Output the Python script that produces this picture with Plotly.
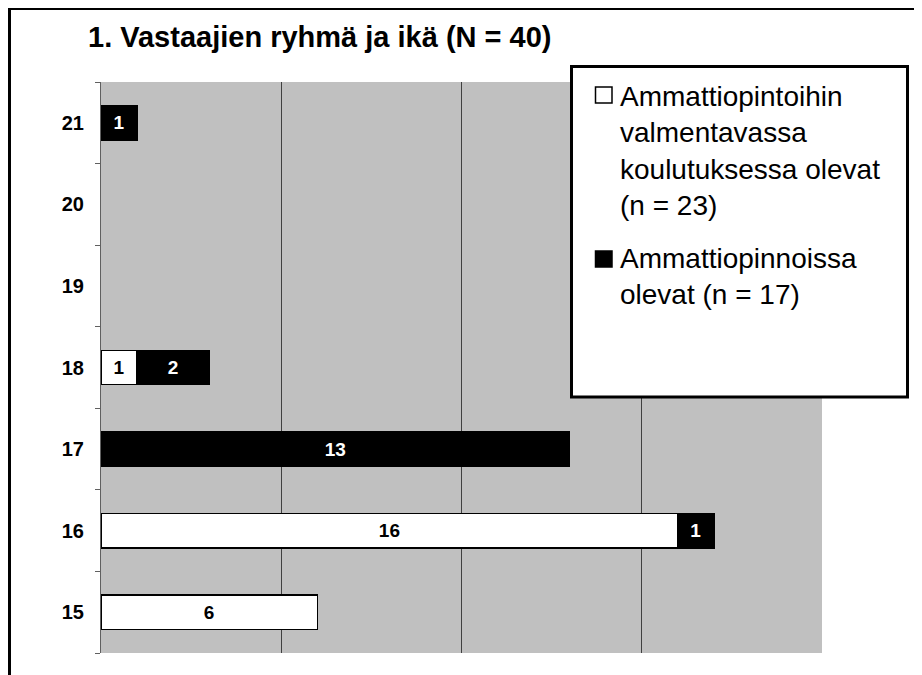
import plotly.graph_objects as go

ages = ["15", "16", "17", "18", "19", "20", "21"]
valmentava = [6, 16, None, 1, None, None, None]
ammatti = [None, 1, 13, 2, None, None, 1]
series_names = [
    "Ammattiopintoihin<br>valmentavassa<br>koulutuksessa olevat<br>(n = 23)",
    "Ammattiopinnoissa<br>olevat (n = 17)",
]
title_text = "1. Vastaajien ryhmä ja ikä (N = 40)"

OFF = 8  # page body margin
W, H = 922 - OFF, 675 - OFF
ML, MR, MT, MB = 101 - OFF, 100, 82 - OFF, 22
PW, PH = W - ML - MR, H - MT - MB
FONT = "Arial, Liberation Sans, sans-serif"


def px(x):
    return (x - OFF - ML) / PW


def py(y):
    return (H - MB - (y - OFF)) / PH


fig = go.Figure()
fig.add_trace(go.Bar(
    y=ages, x=valmentava, orientation="h", name="valmentava",
    marker=dict(color="white", line=dict(color="black", width=1.5)),
    width=0.42, text=valmentava, textposition="inside",
    insidetextanchor="middle", textangle=0,
    textfont=dict(family=FONT, size=19, color="black", weight="bold"),
    showlegend=False, constraintext="none",
))
fig.add_trace(go.Bar(
    y=ages, x=ammatti, orientation="h", name="ammatti",
    marker=dict(color="black", line=dict(color="black", width=1.5)),
    width=0.42, text=ammatti, textposition="inside",
    insidetextanchor="middle", textangle=0,
    textfont=dict(family=FONT, size=19, color="white", weight="bold"),
    showlegend=False, constraintext="none",
))

shapes = [
    # outer frame
    dict(type="rect", xref="paper", yref="paper",
         x0=px(9.5), x1=px(960), y0=py(8.5), y1=py(720),
         line=dict(color="black", width=3), fillcolor="rgba(0,0,0,0)"),
    # legend box
    dict(type="rect", xref="paper", yref="paper",
         x0=px(571.5), x1=px(907.5), y0=py(66.5), y1=py(397),
         line=dict(color="black", width=3), fillcolor="white"),
    dict(type="rect", xref="paper", yref="paper",
         x0=px(595.5), x1=px(612), y0=py(87), y1=py(103),
         line=dict(color="black", width=1.5), fillcolor="white"),
    dict(type="rect", xref="paper", yref="paper",
         x0=px(595.5), x1=px(612), y0=py(251), y1=py(267),
         line=dict(color="black", width=1.5), fillcolor="black"),
]

annotations = [
    dict(text="<b>" + title_text + "</b>", xref="paper", yref="paper",
         x=px(86), y=py(37), xanchor="left", yanchor="middle", showarrow=False,
         font=dict(family=FONT, size=29, color="black")),
    dict(text=series_names[0], xref="paper", yref="paper", align="left",
         x=px(618), y=py(151), xanchor="left", yanchor="middle", showarrow=False,
         font=dict(family=FONT, size=28, color="black")),
    dict(text=series_names[1], xref="paper", yref="paper", align="left",
         x=px(618), y=py(276), xanchor="left", yanchor="middle", showarrow=False,
         font=dict(family=FONT, size=28, color="black")),
]

fig.update_layout(
    width=W, height=H,
    margin=dict(l=ML, r=MR, t=MT, b=MB, pad=0),
    barmode="stack",
    plot_bgcolor="#C0C0C0", paper_bgcolor="white",
    shapes=shapes, annotations=annotations,
    xaxis=dict(range=[0, 20], tickvals=[5, 10, 15], showticklabels=False,
               showgrid=True, gridcolor="#404040", gridwidth=1,
               zeroline=False, showline=False, ticks=""),
    yaxis=dict(type="category", categoryorder="array", categoryarray=ages,
               range=[-0.5, 6.5], tickson="boundaries", ticks="outside",
               ticklen=5, tickcolor="#606060", tickwidth=1,
               showline=True, linecolor="#606060", linewidth=1,
               showgrid=False, zeroline=False, ticklabelstandoff=12,
               tickfont=dict(family=FONT, size=20, color="black", weight="bold")),
    font=dict(family=FONT),
)

fig.write_html("out.html")
